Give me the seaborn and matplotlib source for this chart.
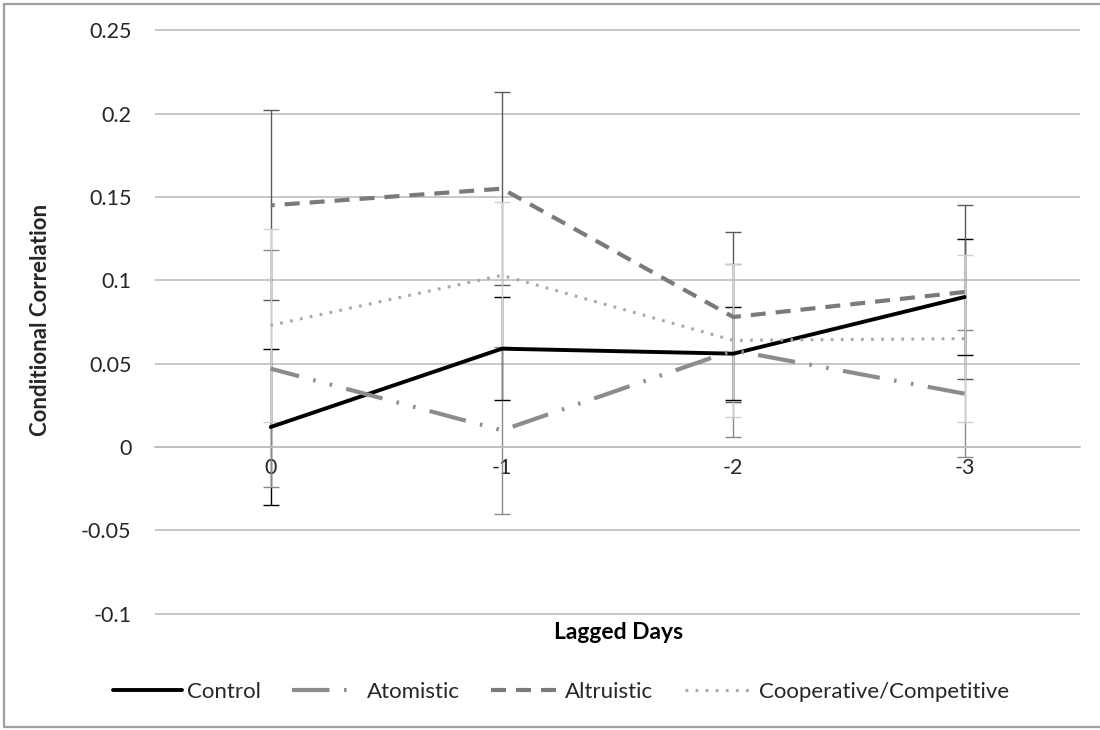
import matplotlib
matplotlib.use("Agg")
import matplotlib.pyplot as plt
import seaborn as sns
from matplotlib.lines import Line2D

# lagged days on the category axis
lags = [0, -1, -2, -3]
lag_labels = ["0", "-1", "-2", "-3"]

series_names = ["Control", "Atomistic", "Altruistic", "Cooperative/Competitive"]

control = [0.012, 0.059, 0.056, 0.090]
control_err = [0.047, 0.031, 0.028, 0.035]
atomistic = [0.047, 0.010, 0.058, 0.032]
atomistic_err = [0.071, 0.050, 0.052, 0.038]
altruistic = [0.145, 0.155, 0.078, 0.093]
altruistic_err = [0.057, 0.058, 0.051, 0.052]
cooperative = [0.073, 0.103, 0.064, 0.065]
cooperative_err = [0.058, 0.044, 0.046, 0.050]

y_ticks = [-0.1, -0.05, 0, 0.05, 0.1, 0.15, 0.2, 0.25]

sns.set_theme(style="white")
plt.rcParams["font.family"] = ["Lato", "DejaVu Sans"]
plt.rcParams["axes.unicode_minus"] = False

fig = plt.figure(figsize=(11, 7.3), dpi=100)
ax = fig.add_axes([0.141, 0.1575, 0.841, 0.8028])

values = [control, atomistic, altruistic, cooperative]
errors = [control_err, atomistic_err, altruistic_err, cooperative_err]
line_colors = ["#000000", "#8c8c8c", "#7a7a7a", "#a8a8a8"]
err_colors = ["#000000", "#8a8a8a", "#5a5a5a", "#cfcfcf"]
widths = [2.8, 3.0, 3.0, 2.2]
styles = ["-", (0, (9, 3.5, 0.6, 3.5, 0.6, 3.5)), (0, (3.6, 2.4)), (0, (0.9, 2.4))]

# error bars first so the lines sit on top
for vals, errs, ec in zip(values, errors, err_colors):
    ax.errorbar(lags, vals, yerr=errs, fmt="none", ecolor=ec, elinewidth=1.0,
                capsize=6, capthick=1.0, zorder=2)

handles = []
for name, vals, c, w, ls in zip(series_names, values, line_colors, widths, styles):
    sns.lineplot(x=lags, y=vals, ax=ax, color=c, linewidth=w, linestyle=ls,
                 label=name, zorder=3, legend=False)
    handles.append(ax.lines[-1])
ax.lines[0].set_zorder(4)

ax.set_xlim(0.5, -3.5)
ax.set_ylim(-0.1008, 0.2508)
ax.set_xticks(lags)
ax.set_xticklabels(lag_labels)
ax.set_yticks(y_ticks)
ax.set_yticklabels([f"{t:g}" for t in y_ticks])
ax.yaxis.grid(True, color="#bfbfbf", linewidth=1.2)
ax.set_axisbelow(True)

for side in ["left", "right", "top"]:
    ax.spines[side].set_visible(False)
ax.spines["bottom"].set_position(("data", 0))
ax.spines["bottom"].set_color("#bfbfbf")
ax.spines["bottom"].set_linewidth(1.2)

ax.tick_params(axis="both", length=0, labelsize=15.5, colors="#262626")
ax.tick_params(axis="x", pad=8)
ax.tick_params(axis="y", pad=17)

ax.set_ylabel("Conditional Correlation", fontsize=16, fontweight="bold")
ax.yaxis.set_label_coords(-0.113, 0.503)
ax.set_xlabel("")
fig.text(0.562, 0.133, "Lagged Days", ha="center", va="center",
         fontsize=16.5, fontweight="bold", color="#000000")

fig.legend(handles, series_names, loc="center", bbox_to_anchor=(0.51, 0.052),
           ncol=4, frameon=False, fontsize=16, handlelength=3.1,
           columnspacing=1.4, handletextpad=0.25)

# outer frame (left, top, bottom like the cropped original)
frame_kw = dict(transform=fig.transFigure, color="#a0a0a0", linewidth=1.6)
fig.add_artist(Line2D([4 / 1100, 4 / 1100], [1 - 4 / 730, 1 - 727 / 730], **frame_kw))
fig.add_artist(Line2D([4 / 1100, 1.0], [1 - 4 / 730, 1 - 4 / 730], **frame_kw))
fig.add_artist(Line2D([4 / 1100, 1.0], [1 - 727 / 730, 1 - 727 / 730], **frame_kw))

fig.savefig("out.png", dpi=100)
